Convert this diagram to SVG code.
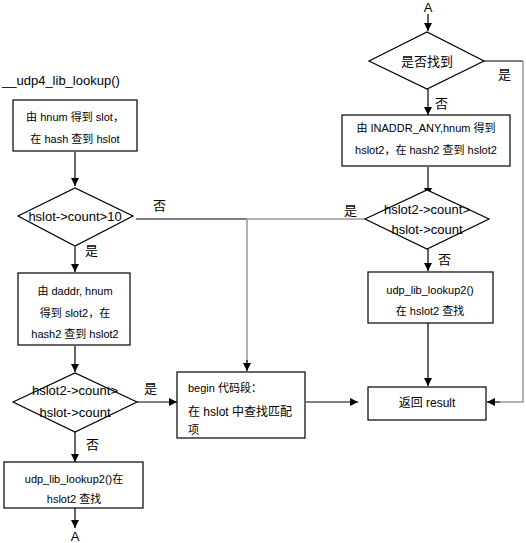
<svg xmlns="http://www.w3.org/2000/svg" width="526" height="543" viewBox="0 0 526 543">
<defs>
<marker id="ah" viewBox="0 0 10 10" refX="10" refY="5" markerWidth="8" markerHeight="8" orient="auto" markerUnits="userSpaceOnUse"><path d="M0,0 L10,5 L0,10 z" fill="#000"/></marker>
<style>
.box{fill:#fff;stroke:#000;stroke-width:1.2}
.t{font-family:"Liberation Sans","Noto Sans CJK SC",sans-serif;font-size:11px;fill:#000;text-anchor:middle}
.ts{font-family:"Liberation Sans","Noto Sans CJK SC",sans-serif;font-size:11px;fill:#000;text-anchor:start}
.d{font-family:"Liberation Sans","Noto Sans CJK SC",sans-serif;font-size:13px;fill:#000;text-anchor:middle}
.l{font-family:"Liberation Sans","Noto Sans CJK SC",sans-serif;font-size:13px;fill:#000}
.c{fill:none;stroke:#000;stroke-width:1.2}
.g{fill:none;stroke:#999;stroke-width:1.5}
.a{marker-end:url(#ah)}
</style>
</defs>
<rect width="526" height="543" fill="#fff"/>
<g id="connectors">
<line class="c a" x1="75" y1="152" x2="75" y2="186"/>
<line class="c a" x1="75" y1="247" x2="75" y2="272"/>
<line class="c a" x1="75" y1="346" x2="75" y2="372"/>
<line class="c a" x1="137" y1="402" x2="177" y2="402"/>
<line class="c a" x1="75" y1="432" x2="75" y2="462"/>
<line class="c a" x1="75" y1="508" x2="75" y2="528"/>
<line class="c" x1="136" y1="219" x2="247" y2="219"/>
<polyline class="g" points="365,219 247,219 247,362"/>
<line class="c a" x1="247" y1="360" x2="247" y2="371"/>
<line class="c a" x1="306" y1="402" x2="358" y2="402"/>
<line class="c a" x1="428" y1="14" x2="428" y2="31"/>
<line class="c" x1="484" y1="61" x2="523" y2="61"/>
<polyline class="g" points="523,61 523,402 500,402"/>
<line class="c a" x1="500" y1="402" x2="487" y2="402"/>
<line class="c a" x1="428" y1="89" x2="428" y2="115"/>
<line class="c a" x1="428" y1="167" x2="428" y2="196"/>
<line class="c a" x1="428" y1="249" x2="428" y2="271"/>
<line class="c a" x1="428" y1="323" x2="428" y2="386"/>
<text class="l" x="153" y="210">否</text>
<text class="l" x="85" y="255">是</text>
<text class="l" x="144" y="393">是</text>
<text class="l" x="86" y="449">否</text>
<text class="l" x="344" y="215">是</text>
<text class="l" x="438" y="264">否</text>
<text class="l" x="498" y="79">是</text>
<text class="l" x="435" y="108">否</text>
</g>
<g id="title"><text class="l" x="2" y="85">__udp4_lib_lookup()</text></g>
<g id="box1"><rect class="box" x="13" y="100" width="124" height="51"/>
<text class="t" x="75" y="121">由 hnum 得到 slot，</text>
<text class="t" x="75" y="143">在 hash 查到 hslot</text></g>
<g id="dec1"><polygon class="box" points="18,216 75,188 133,216 75,246"/>
<text class="d" x="75" y="221">hslot-&gt;count&gt;10</text></g>
<g id="box2"><rect class="box" x="18" y="273" width="112" height="72"/>
<text class="t" x="75" y="295">由 daddr, hnum</text>
<text class="t" x="75" y="317">得到 slot2，在</text>
<text class="t" x="75" y="338">hash2 查到 hslot2</text></g>
<g id="dec2"><polygon class="box" points="13,402 75,373 137,402 75,432"/>
<text class="d" x="75" y="395">hslot2-&gt;count&gt;</text>
<text class="d" x="75" y="417">hslot-&gt;count</text></g>
<g id="box3"><rect class="box" x="4" y="462" width="139" height="46"/>
<text class="t" x="74" y="483">udp_lib_lookup2()在</text>
<text class="t" x="74" y="503">hslot2 查找</text></g>
<g id="endA"><text class="d" x="75" y="541">A</text></g>
<g id="begin"><rect class="box" x="177" y="372" width="128" height="66"/>
<text class="ts" x="188" y="392">begin 代码段：</text>
<text class="ts" x="188" y="416" style="font-size:12px">在 hslot 中查找匹配</text>
<text class="ts" x="188" y="434">项</text></g>
<g id="result"><rect class="box" x="368" y="387" width="118" height="33"/>
<text class="d" x="427" y="407" style="font-size:12px">返回 result</text></g>
<g id="startA"><text class="d" x="428" y="12">A</text></g>
<g id="dec3"><polygon class="box" points="369,61 427,32 484,61 427,89"/>
<text class="d" x="427" y="66">是否找到</text></g>
<g id="box4"><rect class="box" x="342" y="115" width="168" height="51"/>
<text class="t" x="426" y="132">由 INADDR_ANY,hnum 得到</text>
<text class="t" x="426" y="154">hslot2，在 hash2 查到 hslot2</text></g>
<g id="dec4"><polygon class="box" points="365,219 427,190 489,219 427,249"/>
<text class="d" x="427" y="214">hslot2-&gt;count&gt;</text>
<text class="d" x="427" y="234">hslot-&gt;count</text></g>
<g id="box5"><rect class="box" x="368" y="272" width="125" height="51"/>
<text class="t" x="430" y="294">udp_lib_lookup2()</text>
<text class="t" x="430" y="315">在 hslot2 查找</text></g>
</svg>
